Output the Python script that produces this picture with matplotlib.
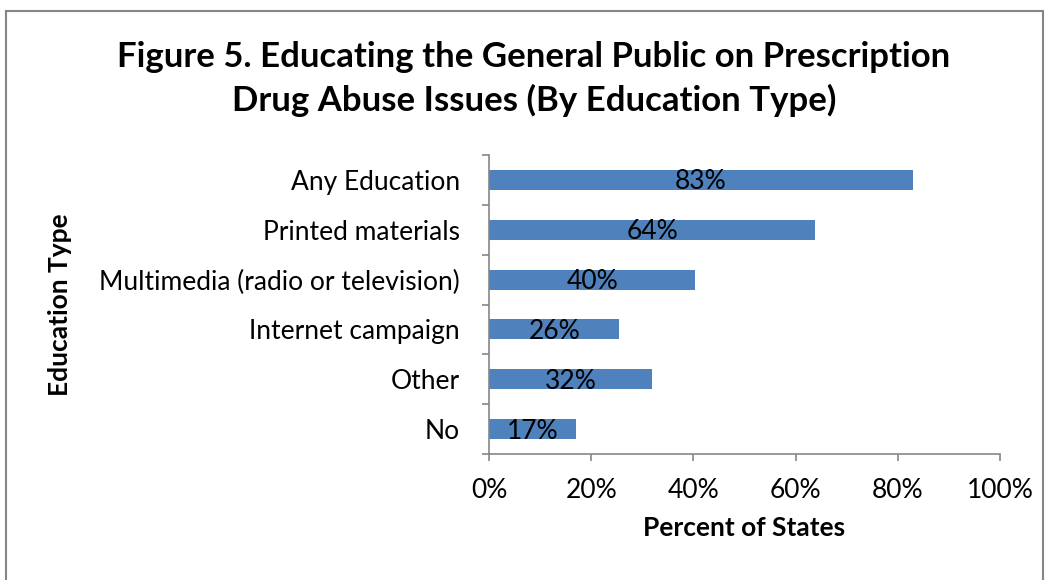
import matplotlib
matplotlib.use("Agg")
import matplotlib.pyplot as plt
from matplotlib.patches import Rectangle

categories = ["Any Education", "Printed materials", "Multimedia (radio or television)",
              "Internet campaign", "Other", "No"]
values = [83, 63.8, 40.4, 25.5, 31.9, 17]
value_labels = ["83%", "64%", "40%", "26%", "32%", "17%"]
xticks = [0, 20, 40, 60, 80, 100]
xtick_labels = ["0%", "20%", "40%", "60%", "80%", "100%"]

plt.rcParams['font.family'] = ['Lato', 'DejaVu Sans']

W, H = 1048, 580
fig = plt.figure(figsize=(W / 100, H / 100), dpi=100)
ax = fig.add_axes([489 / W, 1 - 454 / H, (1000 - 489) / W, (454 - 155) / H])

bar_color = "#4F81BD"
axis_color = "#868686"
fs = 19
ypos = list(range(len(categories)))
ax.barh(ypos, values, height=0.4, color=bar_color)
for y, v, lab in zip(ypos, values, value_labels):
    ax.text(v / 2, y + 0.04, lab, ha="center", va="center", fontsize=fs, color="black")

ax.set_ylim(len(categories) - 0.5, -0.5)
ax.set_xlim(0, 100)
ax.set_xticks(xticks)
ax.set_xticklabels(xtick_labels, fontsize=fs)
ax.set_yticks([i - 0.5 for i in range(len(categories) + 1)], minor=False)
ax.set_yticklabels([])
ax.set_yticks(ypos, minor=True)
ax.set_yticklabels(categories, minor=True, fontsize=fs)
ax.tick_params(axis="y", which="minor", length=0, pad=21)
ax.tick_params(axis="y", which="major", length=5, color=axis_color, width=1.2)
ax.tick_params(axis="x", length=5, color=axis_color, width=1.2, pad=12)
for s in ["top", "right"]:
    ax.spines[s].set_visible(False)
for s in ["left", "bottom"]:
    ax.spines[s].set_color(axis_color)
    ax.spines[s].set_linewidth(1.2)

ax.set_xlabel("Percent of States", fontsize=fs, fontweight="bold", labelpad=10)
fig.text(60 / W, 1 - 305 / H, "Education Type", rotation=90, ha="center", va="center",
         fontsize=fs, fontweight="bold")
fig.text(534 / W, 1 - 79 / H, "Figure 5. Educating the General Public on Prescription\nDrug Abuse Issues (By Education Type)",
         ha="center", va="center", fontsize=25, fontweight="bold", linespacing=1.38)

fig.patches.append(Rectangle((6 / W, -0.05), (1043 - 6) / W, 1.05 - 11 / H,
                             transform=fig.transFigure, fill=False,
                             edgecolor=axis_color, linewidth=1.5))

fig.savefig("out.png", dpi=100)
